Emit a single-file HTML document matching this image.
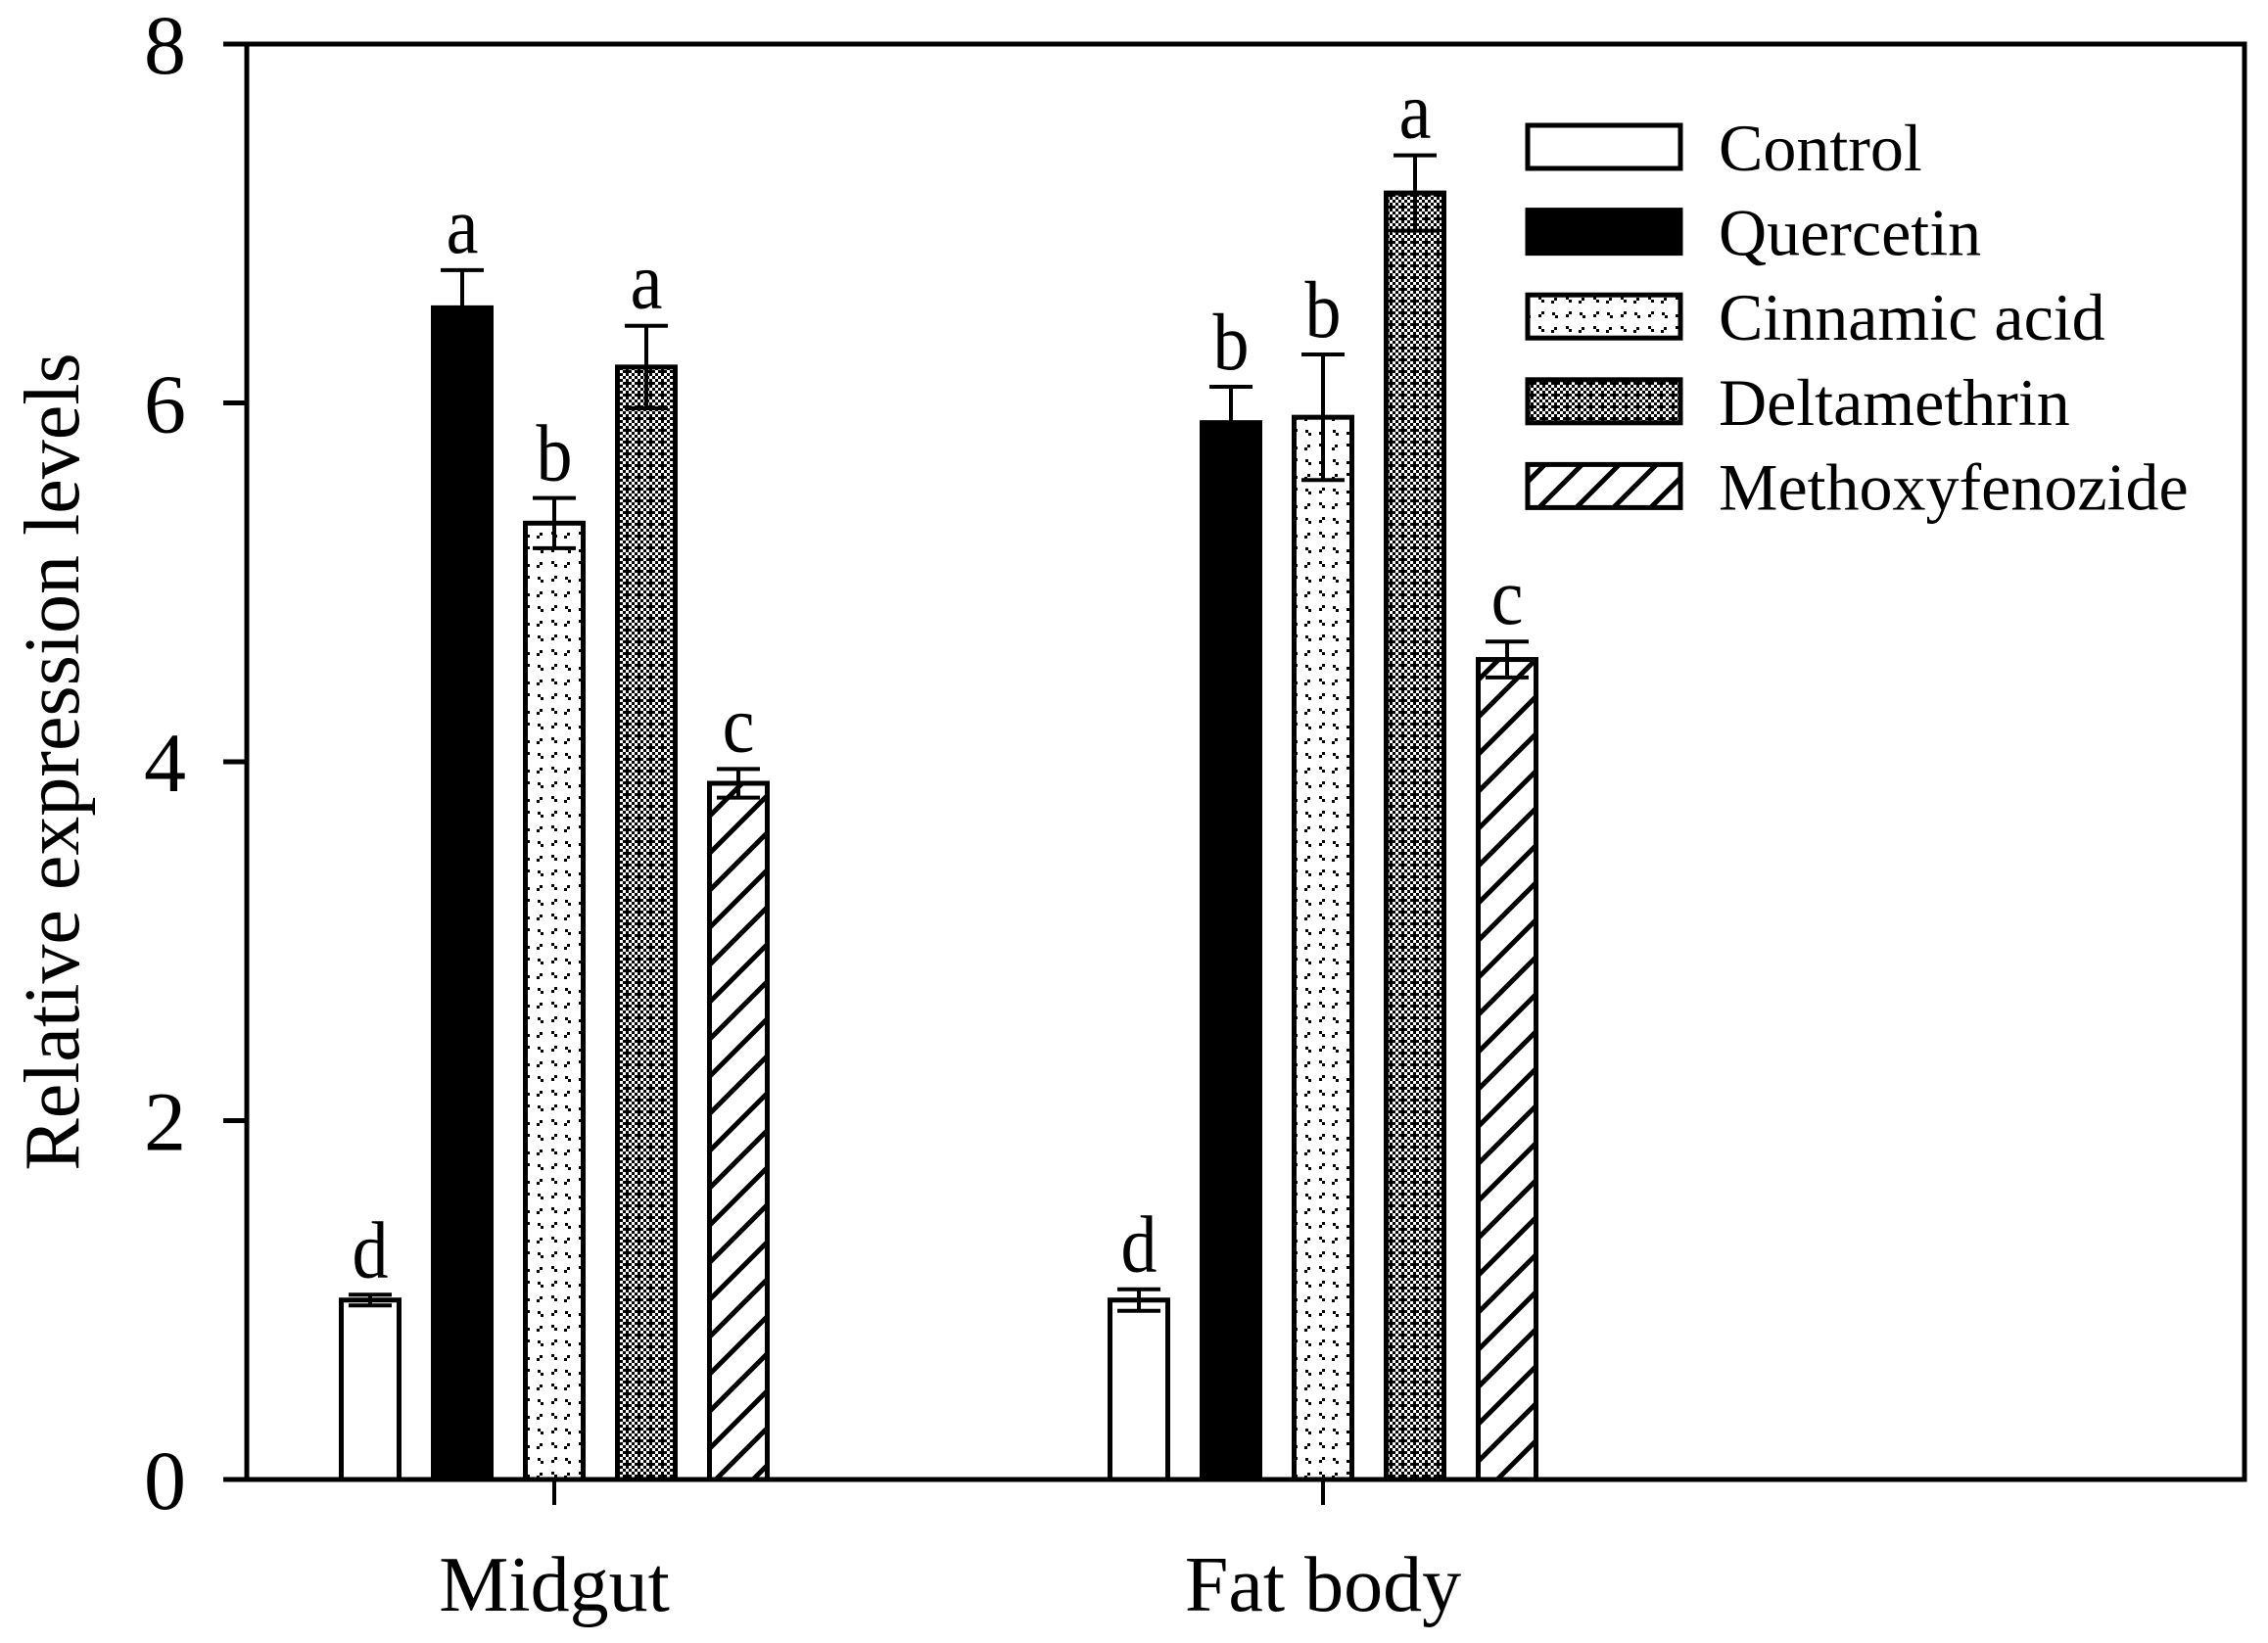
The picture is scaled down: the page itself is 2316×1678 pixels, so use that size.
<!DOCTYPE html>
<html><head><meta charset="utf-8"><style>
html,body{margin:0;padding:0;background:#fff;}
svg{display:block;font-family:"Liberation Serif",serif;}
</style></head><body>
<svg id="chart" width="2316" height="1678" viewBox="0 0 2316 1678" xmlns="http://www.w3.org/2000/svg">
<defs>
<pattern id="p-cin" patternUnits="userSpaceOnUse" width="28" height="30">
<rect width="28" height="30" fill="#fff"/>
<rect x="3" y="3" width="3" height="3" fill="#000"/><rect x="6" y="6" width="3" height="3" fill="#000"/>
<rect x="19" y="4" width="3" height="3" fill="#000"/><rect x="16" y="7" width="3" height="3" fill="#000"/>
<rect x="6" y="18" width="3" height="3" fill="#000"/><rect x="3" y="21" width="3" height="3" fill="#000"/>
<rect x="17" y="19" width="3" height="3" fill="#000"/><rect x="20" y="22" width="3" height="3" fill="#000"/>
</pattern>
<pattern id="p-del" patternUnits="userSpaceOnUse" width="12" height="12">
<rect width="12" height="12" fill="#fff"/>
<rect x="0" y="0" width="3" height="3" fill="#000"/><rect x="6" y="0" width="3" height="3" fill="#000"/>
<rect x="3" y="3" width="3" height="3" fill="#000"/><rect x="9" y="3" width="3" height="3" fill="#000"/>
<rect x="0" y="6" width="9" height="3" fill="#000"/>
<rect x="3" y="9" width="3" height="3" fill="#000"/><rect x="9" y="9" width="3" height="3" fill="#000"/>
</pattern>
<pattern id="p-met" patternUnits="userSpaceOnUse" width="38" height="38">
<rect width="38" height="38" fill="#fff"/>
<path d="M-5,43 L43,-5 M-24,24 L24,-24 M14,62 L62,14" stroke="#000" stroke-width="5"/>
</pattern>
</defs>
<g id="plot"></g>
</svg>
<script>
const categories = ["Midgut", "Fat body"];
const seriesNames = ["Control", "Quercetin", "Cinnamic acid", "Deltamethrin", "Methoxyfenozide"];
const controlVals = [1.0, 1.0];
const quercetinVals = [6.53, 5.89];
const cinnamicVals = [5.33, 5.92];
const deltaVals = [6.2, 7.17];
const methoxyVals = [3.88, 4.57];
const controlErr = [0.03, 0.06];
const quercetinErr = [0.21, 0.2];
const cinnamicErr = [0.14, 0.35];
const deltaErr = [0.23, 0.21];
const methoxyErr = [0.08, 0.1];
const letters = [["d","a","b","a","c"],["d","b","b","a","c"]];
const yTicks = [0, 2, 4, 6, 8];

const NS = "http://www.w3.org/2000/svg";
const g = document.getElementById("plot");
const L = 252, R = 2292, T = 45, B = 1511;
const yMax = 8;
const y = v => B - (v / yMax) * (B - T);
const groupCenters = [566, 1351];
const pitch = 94, bw = 59;
const x = (ci, si) => groupCenters[ci] + (si - 2) * pitch;
const fills = ["#fff", "#000", "url(#p-cin)", "url(#p-del)", "url(#p-met)"];
const vals = [controlVals, quercetinVals, cinnamicVals, deltaVals, methoxyVals];
const errs = [controlErr, quercetinErr, cinnamicErr, deltaErr, methoxyErr];
function mk(tag, attrs, text) {
  const e = document.createElementNS(NS, tag);
  for (const k in attrs) e.setAttribute(k, attrs[k]);
  if (text !== undefined) e.textContent = text;
  g.appendChild(e);
  return e;
}
for (let ci = 0; ci < categories.length; ci++) {
  for (let si = 0; si < seriesNames.length; si++) {
    const v = vals[si][ci], e = errs[si][ci], cx = x(ci, si);
    const r = mk("rect", {x: cx - bw/2, y: y(v), width: bw, height: B - y(v), fill: fills[si], stroke: "#000", "stroke-width": 5});
    
    
    const eb = mk("path", {d: `M${cx},${y(v+e)} V${y(v-e)} M${cx-22},${y(v+e)} H${cx+22} M${cx-22},${y(v-e)} H${cx+22}`, stroke: "#000", "stroke-width": 4, fill: "none"});
    
    
    const t = mk("text", {x: cx, y: y(v+e) - 18, "font-size": 74, "text-anchor": "middle", transform: `translate(${cx},${y(v+e)-18}) scale(1,1.12) translate(${-cx},${-(y(v+e)-18)})`}, letters[ci][si]);
    
    
  }
}
const fr = mk("rect", {x: L, y: T, width: R - L, height: B - T, fill: "none", stroke: "#000", "stroke-width": 5});


for (const tv of yTicks) {
  const tk = mk("line", {x1: L - 24, x2: L, y1: y(tv), y2: y(tv), stroke: "#000", "stroke-width": 5});
  
  
  const tl = mk("text", {x: 190, y: y(tv) + 30, "font-size": 86, "text-anchor": "end"}, String(tv));
  
  
}
for (let ci = 0; ci < categories.length; ci++) {
  const tk = mk("line", {x1: groupCenters[ci], x2: groupCenters[ci], y1: B, y2: B + 26, stroke: "#000", "stroke-width": 4});
  
  
  const tl = mk("text", {x: groupCenters[ci], y: 1645, "font-size": 80, "text-anchor": "middle"}, categories[ci]);
  
  
}
const yt = mk("text", {x: 0, y: 0, "font-size": 80, "text-anchor": "middle", transform: "translate(80,778) rotate(-90)"}, "Relative expression levels");


for (let si = 0; si < seriesNames.length; si++) {
  const ly = 128 + si * 86.6;
  const lb = mk("rect", {x: 1560, y: ly, width: 156, height: 44, fill: fills[si], stroke: "#000", "stroke-width": 5});
  
  
  const lt = mk("text", {x: 1755, y: ly + 46, "font-size": 68}, seriesNames[si]);
  
  
}
</script>
</body></html>
